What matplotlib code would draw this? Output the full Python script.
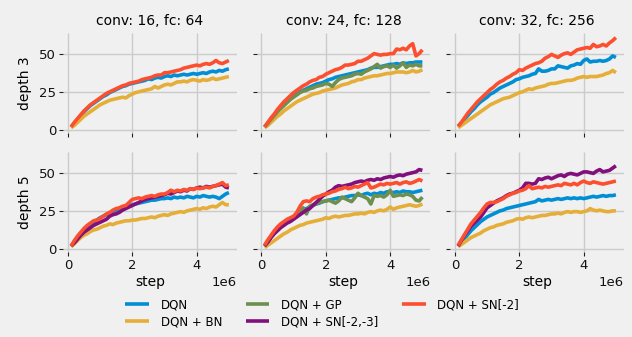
import numpy as np
import matplotlib
matplotlib.use("Agg")
import matplotlib.pyplot as plt

steps = [round((i + 1) * 0.1e6) for i in range(50)]

col_titles = ["conv: 16, fc: 64", "conv: 24, fc: 128", "conv: 32, fc: 256"]
row_labels = ["depth 3", "depth 5"]
method_names = ["DQN", "DQN + BN", "DQN + GP", "DQN + SN[-2,-3]", "DQN + SN[-2]"]
method_colors = ["#008fd5", "#e5ae38", "#6d904f", "#810f7c", "#fc4f30"]

# ---------------- depth 3 ----------------
c16_d3_dqn = [2.0, 4.5, 7.0, 9.5, 12.0, 14.0, 16.0, 17.5, 19.0, 20.5,
              22.0, 23.0, 24.5, 25.5, 26.5, 27.5, 28.5, 29.0, 30.0, 30.5,
              31.0, 31.5, 32.0, 32.5, 33.5, 33.0, 34.0, 34.5, 34.0, 35.0,
              35.5, 35.0, 36.0, 35.5, 36.0, 36.5, 36.0, 36.5, 37.0, 36.5,
              37.0, 37.5, 37.0, 38.0, 38.5, 38.0, 39.0, 38.5, 39.5, 40.0]
c16_d3_sn2 = [2.0, 5.0, 7.5, 10.0, 12.5, 14.5, 16.5, 18.0, 19.5, 21.0,
              22.5, 24.0, 25.0, 26.0, 27.0, 28.0, 29.0, 29.5, 30.5, 31.0,
              31.5, 32.0, 33.0, 33.5, 34.0, 34.5, 35.5, 36.0, 36.0, 37.5,
              37.5, 38.0, 38.5, 39.0, 39.5, 40.5, 41.0, 41.5, 42.0, 42.5,
              42.0, 43.0, 43.5, 43.0, 44.0, 45.5, 44.0, 43.5, 44.5, 45.5]
c16_d3_bn = [1.5, 3.0, 5.0, 7.0, 9.0, 10.5, 12.0, 13.5, 15.0, 16.5,
             17.5, 18.5, 19.5, 20.0, 20.5, 21.0, 21.5, 21.0, 22.5, 23.5,
             24.5, 25.0, 25.5, 26.0, 26.5, 27.0, 28.5, 27.5, 28.5, 29.5,
             30.0, 29.5, 30.5, 31.5, 31.5, 32.0, 31.5, 32.5, 33.0, 32.5,
             32.0, 33.0, 32.5, 33.0, 34.0, 33.0, 33.5, 34.0, 34.5, 35.0]

c24_d3_sn2 = [2.0, 5.0, 8.0, 10.5, 13.5, 16.0, 18.5, 20.5, 22.5, 24.5,
              26.0, 27.5, 29.0, 30.0, 31.5, 32.5, 33.0, 34.5, 35.0, 36.5,
              37.5, 38.5, 39.5, 40.0, 41.0, 42.5, 42.5, 43.0, 43.5, 45.0,
              45.0, 46.0, 47.0, 48.5, 50.0, 49.5, 49.0, 49.5, 49.5, 50.0,
              50.0, 53.0, 52.5, 53.5, 52.5, 55.0, 56.5, 48.5, 50.0, 52.5]
c24_d3_dqn = [2.0, 4.5, 7.0, 9.5, 12.0, 14.5, 16.5, 18.5, 20.5, 22.0,
              23.5, 25.0, 26.0, 27.0, 28.0, 29.0, 30.0, 30.5, 31.0, 32.0,
              33.0, 33.5, 34.5, 35.0, 35.5, 36.0, 36.5, 37.0, 37.5, 38.0,
              38.5, 39.0, 39.5, 40.5, 41.0, 41.0, 41.5, 42.0, 42.5, 43.0,
              43.0, 43.5, 43.0, 44.0, 43.5, 44.0, 44.0, 44.5, 44.5, 44.5]
c24_d3_gp = [2.0, 4.5, 7.0, 9.5, 12.0, 14.0, 16.0, 18.0, 20.0, 21.5,
             23.0, 24.5, 25.5, 26.0, 27.0, 27.5, 28.5, 29.0, 29.5, 30.5,
             30.0, 28.5, 31.0, 33.0, 34.0, 34.5, 35.0, 35.5, 36.5, 37.0,
             36.5, 38.0, 39.0, 40.0, 41.5, 43.0, 40.5, 41.5, 42.0, 41.0,
             42.5, 40.5, 42.0, 44.0, 41.0, 42.5, 42.0, 43.0, 42.0, 42.0]
c24_d3_bn = [1.5, 3.0, 5.0, 7.0, 9.0, 10.5, 12.5, 14.0, 15.5, 17.0,
             18.5, 19.5, 20.5, 21.5, 22.5, 23.5, 24.0, 24.5, 25.5, 26.0,
             26.5, 27.0, 27.5, 28.5, 29.5, 30.0, 30.5, 31.5, 32.0, 33.0,
             33.0, 34.0, 34.5, 35.0, 35.5, 35.5, 36.0, 36.5, 37.0, 37.0,
             37.5, 38.0, 38.0, 38.0, 37.5, 38.0, 39.0, 38.0, 38.5, 39.5]

c32_d3_sn2 = [2.5, 5.0, 8.0, 11.0, 13.5, 16.0, 18.5, 20.5, 22.5, 24.5,
              26.5, 28.0, 30.0, 31.5, 32.5, 34.0, 35.0, 36.5, 37.5, 39.5,
              39.0, 40.5, 41.5, 42.5, 43.5, 44.0, 45.0, 47.0, 48.0, 49.5,
              48.5, 47.5, 49.0, 50.0, 50.5, 49.5, 51.0, 52.5, 53.0, 53.5,
              54.0, 53.5, 56.0, 54.5, 55.0, 56.0, 55.0, 57.0, 58.5, 60.5]
c32_d3_dqn = [2.5, 4.5, 7.0, 9.5, 12.0, 14.0, 16.5, 18.5, 20.0, 21.5,
              23.5, 24.5, 26.0, 27.5, 28.5, 29.5, 30.5, 31.5, 33.0, 33.5,
              34.5, 35.0, 35.5, 36.5, 37.0, 40.0, 38.5, 38.5, 39.0, 40.0,
              40.0, 42.0, 41.5, 41.0, 40.5, 42.0, 42.5, 43.5, 43.0, 45.5,
              46.5, 44.5, 45.0, 45.0, 45.5, 45.0, 45.5, 46.5, 48.5, 47.5]
c32_d3_bn = [1.5, 3.0, 4.5, 6.0, 7.5, 9.0, 10.5, 12.0, 13.5, 15.0,
             16.5, 17.5, 18.5, 19.5, 20.5, 21.0, 21.5, 22.5, 23.5, 24.5,
             25.0, 26.0, 27.0, 26.5, 27.5, 28.0, 28.5, 29.0, 30.0, 30.5,
             30.5, 31.0, 31.5, 32.0, 32.5, 32.5, 33.0, 34.0, 34.5, 35.0,
             34.5, 35.0, 35.0, 35.0, 35.5, 36.0, 37.0, 37.5, 39.0, 37.5]

# ---------------- depth 5 ----------------
c16_d5_sn2 = [2.0, 5.5, 8.5, 11.0, 13.5, 15.5, 17.0, 18.5, 19.0, 20.0,
              21.5, 23.0, 24.0, 25.5, 26.5, 27.0, 28.0, 28.5, 30.5, 32.5,
              33.0, 33.5, 33.0, 34.0, 34.5, 35.0, 34.5, 35.5, 36.0, 36.0,
              37.0, 38.5, 37.5, 38.5, 38.0, 39.0, 38.5, 39.5, 39.0, 40.0,
              39.5, 40.0, 40.5, 40.0, 41.0, 41.5, 42.5, 43.5, 41.5, 42.0]
c16_d5_sn23 = [2.0, 4.0, 6.5, 9.0, 11.0, 12.5, 14.0, 15.5, 16.5, 17.5,
               18.5, 19.5, 21.5, 22.5, 23.0, 24.0, 25.5, 26.5, 27.5, 28.5,
               29.5, 30.5, 31.5, 32.5, 33.0, 33.5, 34.0, 34.5, 35.0, 35.5,
               36.5, 36.0, 37.0, 38.0, 37.5, 38.5, 38.0, 39.5, 39.0, 40.0,
               40.5, 40.0, 41.0, 40.5, 41.0, 41.5, 42.0, 42.5, 40.5, 40.0]
c16_d5_dqn = [2.0, 4.5, 7.0, 9.5, 12.0, 14.0, 16.0, 17.5, 19.0, 20.5,
              21.5, 22.5, 23.5, 24.5, 25.5, 26.0, 27.0, 27.5, 28.5, 29.0,
              29.5, 30.0, 30.5, 31.0, 31.5, 32.0, 32.0, 32.5, 33.0, 33.0,
              33.5, 33.0, 34.0, 33.5, 34.0, 33.5, 34.5, 34.0, 33.5, 34.5,
              34.0, 35.0, 34.5, 34.0, 34.5, 34.0, 33.0, 34.5, 36.0, 37.0]
c16_d5_bn = [1.5, 3.5, 5.5, 7.5, 9.0, 10.0, 11.5, 12.5, 13.0, 14.0,
             15.0, 15.5, 16.5, 16.0, 17.0, 17.5, 18.0, 18.5, 18.5, 19.0,
             19.0, 19.5, 20.0, 20.0, 20.5, 21.0, 20.5, 21.5, 22.0, 22.5,
             22.0, 23.0, 23.5, 24.0, 24.5, 24.0, 25.0, 25.5, 26.0, 26.5,
             26.0, 27.0, 26.5, 27.5, 28.0, 27.5, 29.0, 30.5, 29.0, 29.0]

c24_d5_sn23 = [2.0, 4.5, 7.5, 10.0, 12.0, 14.0, 15.5, 17.0, 18.0, 19.5,
               21.0, 22.5, 24.0, 25.5, 26.5, 28.5, 30.5, 32.5, 34.5, 36.0,
               37.5, 38.5, 40.5, 41.5, 41.0, 41.5, 42.0, 42.5, 43.5, 44.0,
               44.5, 44.0, 45.0, 45.5, 45.0, 46.0, 45.5, 46.5, 47.0, 47.5,
               47.0, 48.0, 48.5, 48.0, 49.0, 49.5, 50.0, 50.5, 52.0, 51.5]
c24_d5_sn2 = [2.5, 6.0, 9.0, 12.0, 14.5, 16.5, 18.0, 19.5, 20.5, 21.5,
              24.0, 28.0, 31.0, 31.5, 31.0, 33.0, 34.0, 34.5, 35.5, 36.0,
              36.5, 37.5, 38.0, 39.0, 39.5, 40.5, 39.5, 40.0, 41.0, 40.5,
              41.5, 42.5, 43.5, 40.0, 40.5, 41.5, 42.5, 42.0, 43.0, 42.5,
              43.0, 43.5, 42.5, 43.5, 44.0, 43.0, 43.5, 44.5, 45.5, 44.5]
c24_d5_dqn = [2.0, 5.0, 8.0, 10.5, 13.0, 15.0, 17.0, 18.5, 20.0, 21.0,
              22.5, 24.0, 25.5, 26.5, 27.5, 28.5, 29.5, 30.0, 31.0, 31.5,
              32.0, 32.5, 33.0, 33.5, 33.5, 34.0, 34.5, 35.0, 35.0, 35.5,
              35.0, 36.0, 36.5, 35.5, 36.5, 36.0, 37.0, 36.5, 37.5, 37.0,
              37.0, 37.5, 37.0, 38.0, 37.5, 37.5, 37.0, 37.5, 38.0, 38.5]
c24_d5_gp = [2.0, 5.0, 8.0, 10.5, 13.0, 15.0, 16.5, 18.0, 19.5, 21.0,
             22.5, 24.5, 27.0, 23.0, 28.0, 29.0, 29.5, 30.5, 31.0, 31.5,
             32.0, 31.0, 30.0, 31.5, 34.0, 33.0, 32.0, 31.0, 33.5, 36.5,
             35.0, 34.0, 33.0, 29.5, 35.0, 34.5, 35.0, 34.0, 35.5, 38.5,
             34.5, 35.0, 35.5, 35.0, 36.0, 35.5, 34.5, 32.0, 31.5, 34.0]
c24_d5_bn = [1.0, 2.5, 4.0, 5.5, 7.0, 8.5, 10.0, 11.0, 12.5, 13.5,
             14.5, 15.5, 16.0, 17.0, 17.5, 18.0, 18.5, 19.0, 19.5, 20.5,
             20.0, 21.0, 21.5, 21.0, 21.5, 22.0, 22.0, 22.5, 23.0, 23.0,
             23.5, 23.0, 24.0, 24.5, 24.0, 25.0, 25.5, 25.0, 26.0, 27.5,
             26.0, 27.0, 27.5, 28.0, 28.5, 29.0, 28.5, 28.0, 28.5, 29.5]

c32_d5_sn23 = [2.0, 5.5, 9.0, 12.0, 15.0, 17.0, 19.0, 21.0, 24.0, 27.0,
               28.5, 30.0, 31.5, 32.5, 33.5, 35.0, 36.0, 36.5, 37.5, 38.5,
               40.0, 43.0, 43.0, 42.5, 43.0, 46.0, 45.5, 46.5, 47.0, 46.0,
               47.0, 48.0, 48.5, 47.5, 49.0, 49.5, 49.0, 48.5, 49.5, 50.5,
               50.5, 50.0, 49.5, 51.0, 52.0, 50.5, 51.0, 51.5, 53.0, 54.5]
c32_d5_sn2 = [2.5, 6.0, 9.5, 13.0, 16.5, 19.0, 21.5, 24.0, 27.0, 29.5,
              30.5, 30.5, 31.0, 32.0, 33.0, 34.5, 35.5, 36.5, 37.0, 38.0,
              38.5, 39.5, 41.5, 39.5, 40.0, 40.5, 40.0, 41.0, 40.5, 41.0,
              41.5, 42.0, 41.5, 43.0, 42.5, 42.0, 43.0, 42.0, 43.5, 44.5,
              43.5, 43.0, 44.0, 43.5, 43.0, 42.5, 43.0, 43.5, 44.0, 44.5]
c32_d5_dqn = [2.0, 4.5, 7.0, 9.5, 12.0, 14.0, 16.0, 18.0, 19.5, 21.0,
              22.0, 23.0, 24.0, 25.0, 25.5, 26.5, 27.0, 27.5, 28.0, 28.5,
              29.0, 29.5, 30.0, 30.5, 31.0, 32.5, 31.5, 32.0, 32.5, 32.0,
              32.5, 33.0, 32.5, 33.0, 33.5, 33.0, 33.5, 33.0, 33.5, 33.0,
              33.5, 34.0, 34.5, 34.0, 34.5, 35.0, 34.5, 35.0, 35.0, 35.5]
c32_d5_bn = [1.5, 3.0, 4.5, 6.0, 7.5, 8.5, 9.5, 10.5, 12.0, 13.0,
             14.0, 14.5, 15.5, 16.0, 16.5, 17.5, 18.0, 18.5, 19.5, 20.0,
             19.5, 20.5, 21.0, 20.5, 21.0, 21.5, 22.0, 22.0, 22.5, 23.0,
             23.0, 23.5, 23.0, 24.0, 24.5, 24.0, 24.5, 24.5, 24.0, 24.5,
             25.0, 26.5, 25.5, 25.0, 25.5, 25.0, 24.5, 24.5, 25.0, 25.0]

panels = [
    [
        {"DQN": c16_d3_dqn, "DQN + BN": c16_d3_bn, "DQN + SN[-2]": c16_d3_sn2},
        {"DQN": c24_d3_dqn, "DQN + BN": c24_d3_bn, "DQN + GP": c24_d3_gp, "DQN + SN[-2]": c24_d3_sn2},
        {"DQN": c32_d3_dqn, "DQN + BN": c32_d3_bn, "DQN + SN[-2]": c32_d3_sn2},
    ],
    [
        {"DQN": c16_d5_dqn, "DQN + BN": c16_d5_bn, "DQN + SN[-2,-3]": c16_d5_sn23, "DQN + SN[-2]": c16_d5_sn2},
        {"DQN": c24_d5_dqn, "DQN + BN": c24_d5_bn, "DQN + GP": c24_d5_gp, "DQN + SN[-2,-3]": c24_d5_sn23, "DQN + SN[-2]": c24_d5_sn2},
        {"DQN": c32_d5_dqn, "DQN + BN": c32_d5_bn, "DQN + SN[-2,-3]": c32_d5_sn23, "DQN + SN[-2]": c32_d5_sn2},
    ],
]

plt.style.use("fivethirtyeight")
plt.rcParams["font.family"] = ["DejaVu Sans"]
bg = "#f0f0f0"

fig, axes = plt.subplots(2, 3, figsize=(6.32, 3.37), dpi=100, sharex=True, sharey=True)
fig.patch.set_facecolor(bg)
fig.subplots_adjust(left=0.1, right=0.987, top=0.902, bottom=0.252, wspace=0.115, hspace=0.19)

handles = {}
for r in range(2):
    for c in range(3):
        ax = axes[r, c]
        ax.set_facecolor(bg)
        for name, color in zip(method_names, method_colors):
            vals = panels[r][c].get(name)
            if vals is None:
                continue
            ln, = ax.plot(steps, vals, color=color, lw=2.6, solid_capstyle="butt")
            handles[name] = ln
        ax.grid(True, color="#cbcbcb", lw=1.0)
        for s in ax.spines.values():
            s.set_visible(False)
        ax.tick_params(axis="both", which="major", length=3, width=0.8, color="#222222",
                       labelsize=9.5, pad=2, labelcolor="#111111")
        ax.set_yticks([0, 25, 50])
        ax.set_xticks([0, 2e6, 4e6])
        ax.xaxis.get_offset_text().set_fontsize(9.5)
        if r == 0:
            ax.set_title(col_titles[c], fontsize=10, pad=6)
        if r == 1:
            ax.set_xlabel("step", fontsize=10, labelpad=2)
        if c == 0:
            ax.set_ylabel(row_labels[r], fontsize=10, labelpad=5)

fig.legend([handles[n] for n in method_names], method_names, loc="lower center",
           bbox_to_anchor=(0.51, -0.005), ncol=3, frameon=False, fontsize=8.5,
           handlelength=2.0, columnspacing=2.0, handletextpad=1.0, labelspacing=0.3)

fig.savefig("out.png", dpi=100, facecolor=bg)
